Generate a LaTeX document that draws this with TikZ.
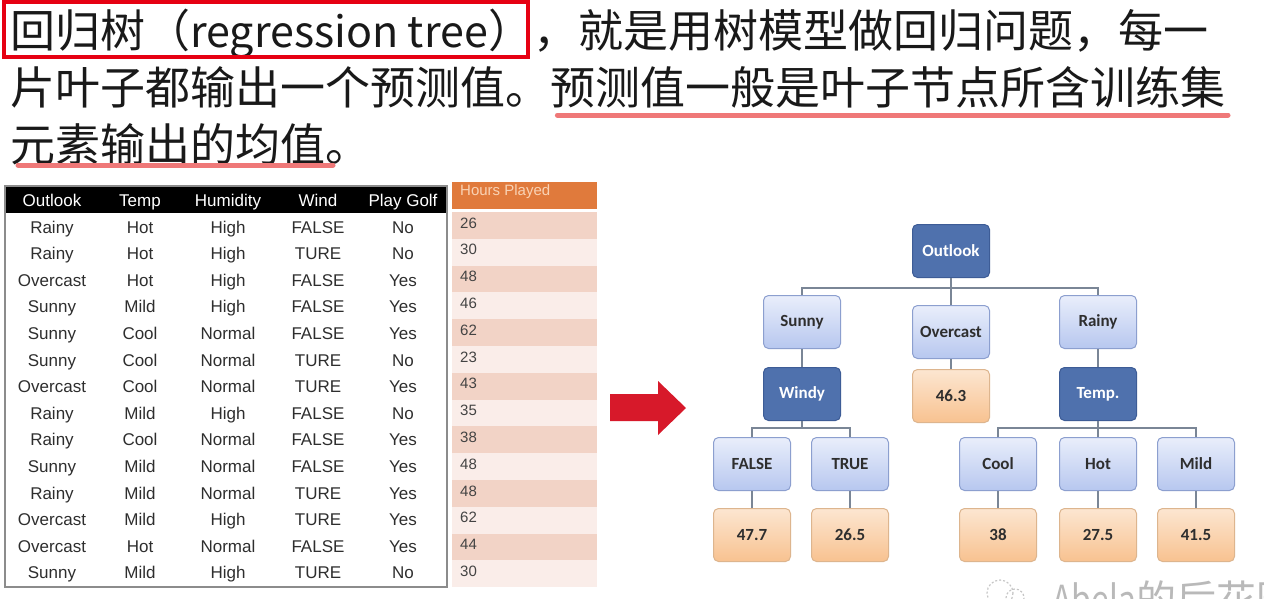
\documentclass[tikz,border=0pt]{standalone}
\usepackage{fontspec}
\setmainfont{Liberation Sans}
\newfontfamily\cjk{Noto Sans CJK SC}
\newfontfamily\carl{Carlito}
\usetikzlibrary{calc}
\definecolor{hlred}{HTML}{E60012}
\definecolor{ulred}{HTML}{EF7878}
\definecolor{arrred}{HTML}{D7192A}
\definecolor{tgray}{HTML}{2E2E2E}
\definecolor{hdorange}{HTML}{E07A3C}
\definecolor{hdtext}{HTML}{F9D3B5}
\definecolor{banddark}{HTML}{F2D3C6}
\definecolor{bandlight}{HTML}{FAEDE9}
\definecolor{darkblue}{HTML}{4F71AD}
\definecolor{darkblueb}{HTML}{3D5C96}
\definecolor{ltop}{HTML}{E9EEFB}
\definecolor{lbot}{HTML}{B7C7EF}
\definecolor{lbord}{HTML}{8C9FCF}
\definecolor{otop}{HTML}{FCE6D1}
\definecolor{obot}{HTML}{F8C290}
\definecolor{obord}{HTML}{DDB58E}
\definecolor{conncol}{HTML}{7A8696}
\begin{document}
\begin{tikzpicture}[x=1pt,y=-1pt,
  txt/.style={inner sep=0pt,font=\cjk\fontsize{45}{50}\selectfont,text=black!90},
  uline/.style={draw=ulred,line width=5pt,line cap=round},
  hcell/.style={inner sep=0pt,anchor=base,text=white,font=\fontsize{17}{20}\selectfont},
  cell/.style={inner sep=0pt,anchor=base,text=tgray,font=\fontsize{17}{20}\selectfont},
  hrs/.style={inner sep=0pt,anchor=west,text=tgray!90,font=\fontsize{15}{18}\selectfont},
  tbox/.style={rounded corners=5pt,minimum width=77pt,minimum height=53pt,inner sep=0pt,font=\carl\bfseries\fontsize{17}{19}\selectfont},
  lightbox/.style={tbox,draw=lbord,line width=1pt,top color=ltop,bottom color=lbot,text=tgray},
  darkbox/.style={tbox,draw=darkblueb,line width=1pt,fill=darkblue,text=white},
  leafbox/.style={tbox,draw=obord,line width=1pt,top color=otop,bottom color=obot,text=tgray},
  conn/.style={draw=conncol,line width=1.6pt}
]
\useasboundingbox (0,0) rectangle (1264,598);
\fill[white] (0,0) rectangle (1264,598);

% ---------- heading text ----------
\node[txt,anchor=base west] (t1a) at (10,47) {回归树（{\fontsize{43}{50}\selectfont regression tree}）};
\node[txt,anchor=base west] (t1b) at (t1a.base east) {，就是用树模型做回归问题，每一};
\draw[hlred,line width=4pt] (4,2) rectangle (528,57);
\node[txt,anchor=base west] (t2a) at (10,104) {片叶子都输出一个预测值。};
\node[txt,anchor=base west] (t2b) at (t2a.base east) {预测值一般是叶子节点所含训练集};
\draw[uline] (t2b.base west |- 0,115) ++(7,0) -- (1228,115);
\node[txt,anchor=base west] (t3a) at (10,161) {元素输出的均值};
\node[txt,anchor=base west] (t3b) at (t3a.base east) {。};
\draw[uline] (18,165) -- (333,165);

% ---------- table ----------
\fill[black] (5,186) rectangle (447,213);
\draw[gray!90,line width=1.5pt] (5,186) rectangle (447,587);
\node[hcell] (h1) at (52,206) {Outlook};
\node[hcell] (h2) at (140,206) {Temp};
\node[hcell] (h3) at (228,206) {Humidity};
\node[hcell] (h4) at (318,206) {Wind};
\node[hcell] (h5) at (403,206) {Play Golf};

\fill[hdorange] (452,182) rectangle (597,209);
\node[inner sep=0pt,anchor=west,text=hdtext,font=\fontsize{15}{18}\selectfont] (hh) at (460,192) {Hours Played};

\foreach [count=\i] \o/\t/\h/\w/\p/\n in {
  Rainy/Hot/High/FALSE/No/26,
  Rainy/Hot/High/TURE/No/30,
  Overcast/Hot/High/FALSE/Yes/48,
  Sunny/Mild/High/FALSE/Yes/46,
  Sunny/Cool/Normal/FALSE/Yes/62,
  Sunny/Cool/Normal/TURE/No/23,
  Overcast/Cool/Normal/TURE/Yes/43,
  Rainy/Mild/High/FALSE/No/35,
  Rainy/Cool/Normal/FALSE/Yes/38,
  Sunny/Mild/Normal/FALSE/Yes/48,
  Rainy/Mild/Normal/TURE/Yes/48,
  Overcast/Mild/High/TURE/Yes/62,
  Overcast/Hot/Normal/FALSE/Yes/44,
  Sunny/Mild/High/TURE/No/30}{
  \pgfmathsetmacro\yy{233+(\i-1)*26.6}
  \pgfmathsetmacro\ba{212+(\i-1)*26.8}
  \pgfmathsetmacro\bb{\ba+26.8}
  \pgfmathsetmacro\yh{\ba+11}
  \pgfmathtruncatemacro\odd{mod(\i,2)}
  \ifnum\odd=1 \fill[banddark] (452,\ba) rectangle (597,\bb);
  \else \fill[bandlight] (452,\ba) rectangle (597,\bb); \fi
  \node[cell] (o\i) at (52,\yy) {\o};
  \node[cell] (t\i) at (140,\yy) {\t};
  \node[cell] (u\i) at (228,\yy) {\h};
  \node[cell] (w\i) at (318,\yy) {\w};
  \node[cell] (p\i) at (403,\yy) {\p};
  \node[hrs] (n\i) at (460,\yh) {\n};
}

% ---------- arrow ----------
\fill[arrred] (610,394) -- (658,394) -- (658,381) -- (686,408) -- (658,435) -- (658,421) -- (610,421) -- cycle;

% ---------- tree ----------
\node[darkbox] (out) at (951,251) {Outlook};
\node[lightbox] (sun) at (802,322) {Sunny};
\node[lightbox] (ovc) at (951,332) {Overcast};
\node[lightbox] (rai) at (1098,322) {Rainy};
\node[darkbox] (win) at (802,394) {Windy};
\node[leafbox] (v0) at (951,396) {46.3};
\node[darkbox] (tmp) at (1098,394) {Temp.};
\node[lightbox] (fal) at (752,464) {FALSE};
\node[lightbox] (tru) at (850,464) {TRUE};
\node[lightbox] (coo) at (998,464) {Cool};
\node[lightbox] (hot) at (1098,464) {Hot};
\node[lightbox] (mil) at (1196,464) {Mild};
\node[leafbox] (v1) at (752,535) {47.7};
\node[leafbox] (v2) at (850,535) {26.5};
\node[leafbox] (v3) at (998,535) {38};
\node[leafbox] (v4) at (1098,535) {27.5};
\node[leafbox] (v5) at (1196,535) {41.5};

\draw[conn] (out.south) -- ++(0,10) coordinate (j1);
\draw[conn] (sun.north) |- (j1) -| (rai.north);
\draw[conn] (j1) -- (ovc.north);
\draw[conn] (sun) -- (win);
\draw[conn] (ovc) -- (v0);
\draw[conn] (rai) -- (tmp);
\draw[conn] (win.south) -- ++(0,7) coordinate (j2);
\draw[conn] (fal.north) |- (j2) -| (tru.north);
\draw[conn] (tmp.south) -- ++(0,7) coordinate (j3);
\draw[conn] (coo.north) |- (j3) -| (mil.north);
\draw[conn] (j3) -- (hot.north);
\draw[conn] (fal) -- (v1);
\draw[conn] (tru) -- (v2);
\draw[conn] (coo) -- (v3);
\draw[conn] (hot) -- (v4);
\draw[conn] (mil) -- (v5);

% ---------- watermark ----------
\draw[gray!45,line width=1.2pt,dash pattern=on 2pt off 2pt] (1000,593) circle[radius=13];
\draw[gray!45,line width=1.2pt,dash pattern=on 2pt off 2pt] (1015,598) circle[radius=9];
\node[inner sep=0pt,anchor=base west,text=gray!55,font=\cjk\fontsize{40}{44}\selectfont] (wm) at (1052,614) {\scalebox{0.8}[1]{Abela}的后花园};
\end{tikzpicture}
\end{document}
